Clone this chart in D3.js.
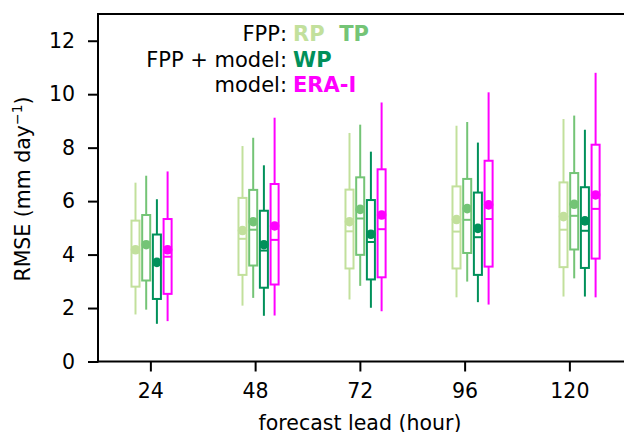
<!DOCTYPE html>
<html><head><meta charset="utf-8">
<script src="https://cdn.jsdelivr.net/npm/d3@7"></script>
<style>body{margin:0;background:#fff}svg{display:block;font-family:"DejaVu Sans",sans-serif}</style>
</head><body><svg id="c" width="624" height="432"></svg>
<script>
const leads = ["24", "48", "72", "96", "120"];
const seriesNames = ["RP", "TP", "WP", "ERA-I"];
const seriesColors = ["#c2e09c", "#74c476", "#00905a", "#ff00ff"];

// per series, per lead: whisker low, q1, median, q3, whisker high, mean
const rpLow  = [1.76, 2.09, 2.32, 2.40, 2.43];
const rpQ1   = [2.80, 3.24, 3.48, 3.48, 3.53];
const rpMed  = [4.12, 4.59, 4.87, 4.86, 4.93];
const rpQ3   = [5.27, 6.12, 6.43, 6.55, 6.70];
const rpHigh = [6.69, 8.06, 8.55, 8.82, 9.07];
const rpMean = [4.18, 4.90, 5.23, 5.31, 5.42];

const tpLow  = [1.94, 2.38, 2.83, 2.99, 3.11];
const tpQ1   = [3.03, 3.59, 3.99, 4.06, 4.19];
const tpMed  = [4.30, 4.93, 5.35, 5.30, 5.45];
const tpQ3   = [5.48, 6.42, 6.89, 6.83, 7.05];
const tpHigh = [6.95, 8.37, 8.86, 8.96, 9.20];
const tpMean = [4.37, 5.23, 5.69, 5.72, 5.88];

const wpLow  = [1.41, 1.71, 2.01, 2.22, 2.43];
const wpQ1   = [2.34, 2.76, 3.07, 3.24, 3.50];
const wpMed  = [3.62, 4.15, 4.47, 4.65, 4.89];
const wpQ3   = [4.75, 5.64, 6.04, 6.32, 6.52];
const wpHigh = [6.07, 7.34, 7.85, 8.19, 8.67];
const wpMean = [3.71, 4.37, 4.76, 4.98, 5.26];

const eraLow  = [1.51, 1.72, 1.88, 2.13, 2.40];
const eraQ1   = [2.53, 2.88, 3.15, 3.55, 3.85];
const eraMed  = [3.92, 4.55, 4.95, 5.33, 5.71];
const eraQ3   = [5.33, 6.64, 7.19, 7.51, 8.11];
const eraHigh = [7.11, 9.12, 9.69, 10.07, 10.80];
const eraMean = [4.18, 5.07, 5.48, 5.86, 6.23];

const yTicks = [0, 2, 4, 6, 8, 10, 12];

const seriesData = [
  {low: rpLow, q1: rpQ1, med: rpMed, q3: rpQ3, high: rpHigh, mean: rpMean},
  {low: tpLow, q1: tpQ1, med: tpMed, q3: tpQ3, high: tpHigh, mean: tpMean},
  {low: wpLow, q1: wpQ1, med: wpMed, q3: wpQ3, high: wpHigh, mean: wpMean},
  {low: eraLow, q1: eraQ1, med: eraMed, q3: eraQ3, high: eraHigh, mean: eraMean}
];

const svg = d3.select("#c");
const pLeft = 98, pRight = 626, pTop = 14, pBottom = 361.5;
const fs = "20.5px";

const y = d3.scaleLinear().domain([0, 13]).range([pBottom, pTop]);
const xTick = d3.scaleLinear().domain([0.5, 5.5]).range([pLeft, pLeft + 5 * 104.75]);
// box positions: group index + 0.1 * series index
const xBox = d3.scaleLinear().domain([0, 1]).range([135.5, 242.5]);
const boxW = 0.075;
const bw = xBox(boxW) - xBox(0);

const boxes = [];
seriesData.forEach((s, si) => {
  leads.forEach((l, gi) => {
    boxes.push({si, gi, low: s.low[gi], q1: s.q1[gi], med: s.med[gi], q3: s.q3[gi], high: s.high[gi], mean: s.mean[gi]});
  });
});

const g = svg.append("g");
const bg = g.selectAll("g.box").data(boxes).join("g").attr("class", "box");
bg.each(function(d) {
  const sel = d3.select(this);
  const cx = xBox(d.gi + 0.1 * d.si);
  const col = seriesColors[d.si];
  sel.append("line").attr("x1", cx).attr("x2", cx).attr("y1", y(d.high)).attr("y2", y(d.q3))
    .attr("stroke", col).attr("stroke-width", 2);
  sel.append("line").attr("x1", cx).attr("x2", cx).attr("y1", y(d.q1)).attr("y2", y(d.low))
    .attr("stroke", col).attr("stroke-width", 2);
  sel.append("rect").attr("x", cx - bw / 2).attr("width", bw)
    .attr("y", y(d.q3)).attr("height", y(d.q1) - y(d.q3))
    .attr("fill", "#fff").attr("stroke", col).attr("stroke-width", 2);
  sel.append("line").attr("x1", cx - bw / 2).attr("x2", cx + bw / 2)
    .attr("y1", y(d.med)).attr("y2", y(d.med))
    .attr("stroke", col).attr("stroke-width", 2);
});
bg.append("circle")
  .attr("cx", d => xBox(d.gi + 0.1 * d.si))
  .attr("cy", d => y(d.mean))
  .attr("r", 4.8)
  .attr("fill", d => seriesColors[d.si]);

// axes
const yAxis = d3.axisLeft(y).tickValues(yTicks).tickSize(10).tickSizeOuter(0).tickPadding(13);
const ya = svg.append("g").attr("transform", `translate(${pLeft},0)`).call(yAxis);
const xAxis = d3.axisBottom(xTick).tickValues([1, 2, 3, 4, 5]).tickFormat((d, i) => leads[i])
  .tickSize(10).tickSizeOuter(0).tickPadding(12);
const xa = svg.append("g").attr("transform", `translate(0,${pBottom})`).call(xAxis);
[ya, xa].forEach(a => {
  a.select(".domain").remove();
  a.selectAll(".tick line").attr("stroke", "#000").attr("stroke-width", 2);
  a.selectAll(".tick text").attr("fill", "#000").style("font-size", fs)
    .style("font-family", "DejaVu Sans");
});

// spines
svg.append("line").attr("x1", pLeft).attr("x2", pLeft).attr("y1", pTop).attr("y2", pBottom + 1)
  .attr("stroke", "#000").attr("stroke-width", 2);
svg.append("line").attr("x1", pLeft - 1).attr("x2", pRight).attr("y1", pBottom).attr("y2", pBottom)
  .attr("stroke", "#000").attr("stroke-width", 2);
svg.append("line").attr("x1", pLeft - 1).attr("x2", pRight).attr("y1", pTop).attr("y2", pTop)
  .attr("stroke", "#000").attr("stroke-width", 2);

// axis labels
const yl = svg.append("text").attr("transform", "translate(30,189) rotate(-90)")
  .attr("text-anchor", "middle").style("font-size", fs).attr("fill", "#000");
yl.append("tspan").text("RMSE (mm day");
yl.append("tspan").text("\u22121").style("font-size", "14px").attr("dy", "-8");
yl.append("tspan").text(")").attr("dy", "8");

svg.append("text").attr("x", 360).attr("y", 430).attr("text-anchor", "middle")
  .style("font-size", fs).attr("fill", "#000").text("forecast lead (hour)");

// legend
const legendLabels = ["FPP:", "FPP + model:", "model:"];
const legendMembers = [[0, 1], [2], [3]];
const legY = [41, 66.5, 91.5];
legendLabels.forEach((lab, i) => {
  svg.append("text").attr("x", 287).attr("y", legY[i]).attr("text-anchor", "end")
    .style("font-size", "21px").attr("fill", "#000").text(lab);
  const t = svg.append("text").attr("x", 293).attr("y", legY[i])
    .style("font-size", "21px").style("font-weight", "bold");
  legendMembers[i].forEach((si, k) => {
    t.append("tspan").text((k > 0 ? "\u00a0\u00a0" : "") + seriesNames[si]).attr("fill", seriesColors[si]);
  });
});
</script></body></html>
